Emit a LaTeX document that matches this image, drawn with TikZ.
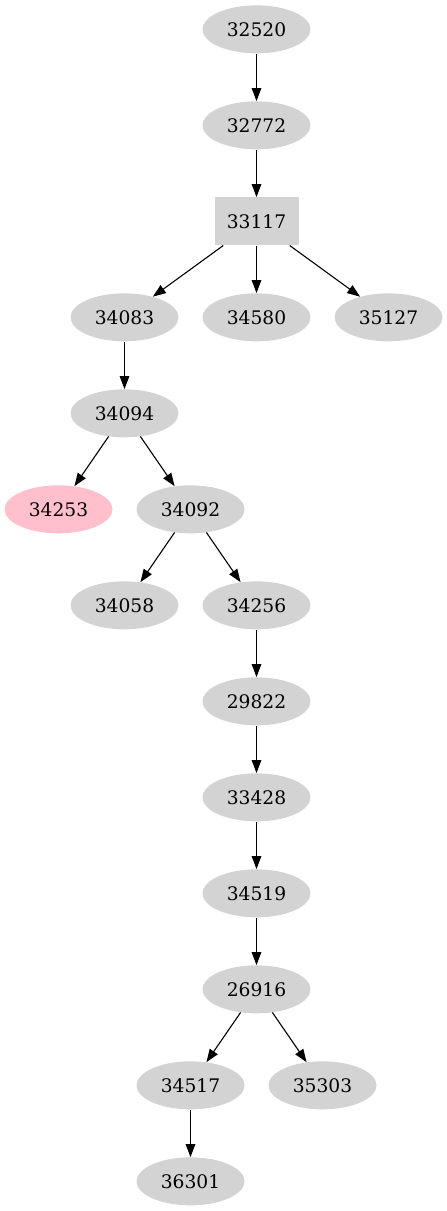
\documentclass[tikz,border=0pt]{standalone}
\usepackage{fontspec}
\setmainfont{DejaVu Serif}
\usetikzlibrary{shapes.geometric,arrows.meta}
\definecolor{gvgray}{HTML}{D3D3D3}
\definecolor{gvpink}{HTML}{FFC0CB}
\tikzset{
  nd/.style={ellipse,fill=gvgray,draw=none,minimum width=108pt,minimum height=48pt,inner sep=0pt,
    font=\fontsize{18.67pt}{22pt}\selectfont},
  pinknd/.style={nd,fill=gvpink},
  boxnd/.style={rectangle,fill=gvgray,draw=none,minimum width=84pt,minimum height=48pt,inner sep=0pt,
    font=\fontsize{18.67pt}{22pt}\selectfont},
  edge/.style={draw=black,line width=1.1pt,-{Triangle[length=13pt,width=9.5pt]}}
}
\begin{document}
\begin{tikzpicture}[x=1pt,y=-1pt]
\useasboundingbox (0,0) rectangle (447,1211);
\node[nd] (n32520) at (256.5,29.33) {32520};
\node[nd] (n32772) at (256.5,125.33) {32772};
\node[boxnd] (n33117) at (256.5,221.33) {33117};
\node[nd] (n34083) at (124.5,317.33) {34083};
\node[nd] (n34580) at (256.5,317.33) {34580};
\node[nd] (n35127) at (388.5,317.33) {35127};
\node[nd] (n34094) at (124.5,413.33) {34094};
\node[pinknd] (n34253) at (58.5,509.33) {34253};
\node[nd] (n34092) at (190.5,509.33) {34092};
\node[nd] (n34058) at (124.5,605.33) {34058};
\node[nd] (n34256) at (256.5,605.33) {34256};
\node[nd] (n29822) at (256.5,701.33) {29822};
\node[nd] (n33428) at (256.5,797.33) {33428};
\node[nd] (n34519) at (256.5,893.33) {34519};
\node[nd] (n26916) at (256.5,989.33) {26916};
\node[nd] (n34517) at (190.5,1085.33) {34517};
\node[nd] (n35303) at (322.5,1085.33) {35303};
\node[nd] (n36301) at (190.5,1181.33) {36301};
\draw[edge] (n32520) -- (n32772);
\draw[edge] (n32772) -- (n33117);
\draw[edge] (n33117) -- (n34083);
\draw[edge] (n33117) -- (n34580);
\draw[edge] (n33117) -- (n35127);
\draw[edge] (n34083) -- (n34094);
\draw[edge] (n34094) -- (n34253);
\draw[edge] (n34094) -- (n34092);
\draw[edge] (n34092) -- (n34058);
\draw[edge] (n34092) -- (n34256);
\draw[edge] (n34256) -- (n29822);
\draw[edge] (n29822) -- (n33428);
\draw[edge] (n33428) -- (n34519);
\draw[edge] (n34519) -- (n26916);
\draw[edge] (n26916) -- (n34517);
\draw[edge] (n26916) -- (n35303);
\draw[edge] (n34517) -- (n36301);
\end{tikzpicture}
\end{document}
